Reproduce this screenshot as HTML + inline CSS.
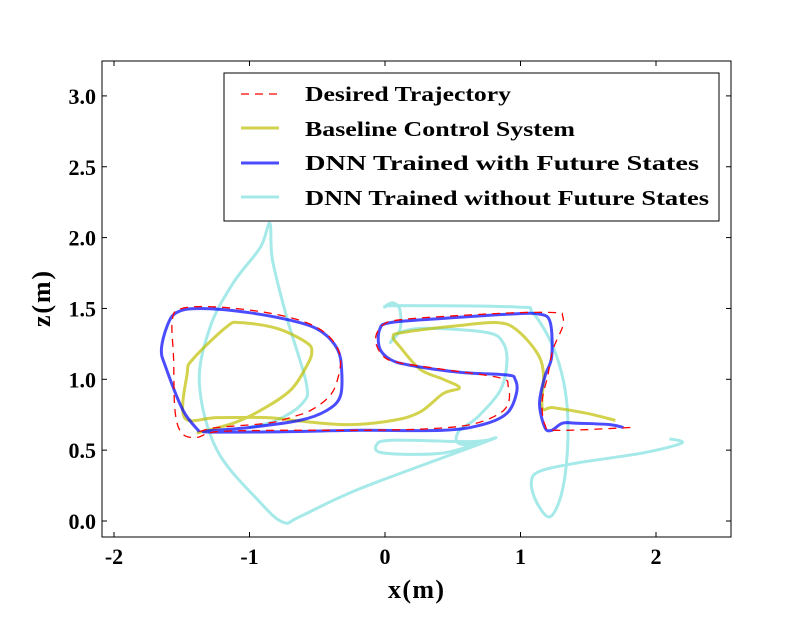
<!DOCTYPE html>
<html><head><meta charset="utf-8"><style>
body{margin:0;background:#fff;}
svg text{font-family:"Liberation Serif",serif;font-weight:bold;}
</style></head><body>
<svg id="chart" width="812" height="612" xmlns="http://www.w3.org/2000/svg">
<rect width="812" height="612" fill="#fff"/>
<g id="series"></g>
<rect x="102" y="61" width="629" height="476" fill="none" stroke="#000" stroke-width="1"/>
<g id="ticks"></g>
<text x="416" y="598" font-size="26" text-anchor="middle" textLength="56">x(m)</text>
<text transform="translate(50,299) rotate(-90)" font-size="26" text-anchor="middle" textLength="56">z(m)</text>
<g>
<rect x="224" y="73" width="495" height="148" fill="#fff" stroke="#000" stroke-width="1"/>
<line x1="241" y1="94" x2="279" y2="94" stroke="#ff0000" stroke-width="1.3" stroke-dasharray="8,6"/>
<text x="305" y="101" font-size="21" textLength="206" lengthAdjust="spacingAndGlyphs">Desired Trajectory</text>
<line x1="241" y1="128" x2="279" y2="128" stroke="#bfbf00" stroke-opacity="0.7" stroke-width="3"/>
<text x="305" y="136" font-size="21" textLength="270" lengthAdjust="spacingAndGlyphs">Baseline Control System</text>
<line x1="241" y1="163" x2="279" y2="163" stroke="#0000ff" stroke-opacity="0.7" stroke-width="3"/>
<text x="305" y="170" font-size="21" textLength="394" lengthAdjust="spacingAndGlyphs">DNN Trained with Future States</text>
<line x1="241" y1="197" x2="279" y2="197" stroke="#00bfbf" stroke-opacity="0.35" stroke-width="3"/>
<text x="305" y="205" font-size="21" textLength="404" lengthAdjust="spacingAndGlyphs">DNN Trained without Future States</text>
</g>
</svg>
<script>
const xTicks=[-2,-1,0,1,2];
const yTicks=[0.0,0.5,1.0,1.5,2.0,2.5,3.0];
const desired=[[1.81,0.66],[1.27,0.64],[1.18,0.68],[1.16,0.85],[1.20,1.02],[1.24,1.21],[1.31,1.37],[1.31,1.45],[1.27,1.47],[0.97,1.47],[0.55,1.45],[0.11,1.42],[-0.02,1.38],[-0.07,1.28],[-0.02,1.17],[0.09,1.12],[0.43,1.07],[0.85,1.01],[0.91,0.95],[0.91,0.83],[0.83,0.75],[0.63,0.68],[0.31,0.65],[-0.18,0.64],[-0.75,0.64],[-1.24,0.63],[-1.39,0.59],[-1.50,0.62],[-1.55,0.78],[-1.56,1.14],[-1.57,1.42],[-1.50,1.50],[-1.24,1.51],[-0.87,1.47],[-0.58,1.40],[-0.41,1.30],[-0.33,1.16],[-0.35,1.00],[-0.41,0.88],[-0.55,0.78],[-0.70,0.73],[-0.87,0.69],[-1.24,0.66],[-1.37,0.63]];
const baseline=[[-1.39,0.62],[-1.12,0.69],[-0.92,0.78],[-0.70,0.92],[-0.58,1.09],[-0.54,1.19],[-0.58,1.26],[-0.80,1.36],[-1.07,1.40],[-1.17,1.37],[-1.42,1.14],[-1.46,1.04],[-1.48,0.73],[-1.24,0.73],[-0.87,0.73],[-0.58,0.70],[-0.26,0.68],[0.06,0.71],[0.26,0.77],[0.43,0.90],[0.55,0.94],[0.43,1.00],[0.26,1.07],[0.11,1.23],[0.06,1.30],[0.13,1.33],[0.55,1.38],[0.83,1.40],[0.97,1.35],[1.12,1.19],[1.17,1.04],[1.16,0.80],[1.24,0.80],[1.49,0.76],[1.70,0.71]];
const dnnFuture=[[-1.37,0.63],[-1.49,0.78],[-1.62,1.09],[-1.65,1.21],[-1.61,1.37],[-1.54,1.47],[-1.37,1.50],[-1.00,1.47],[-0.63,1.40],[-0.46,1.33],[-0.35,1.21],[-0.32,1.07],[-0.33,0.88],[-0.43,0.78],[-0.63,0.71],[-1.00,0.66],[-1.34,0.63],[-0.75,0.63],[-0.18,0.64],[0.43,0.64],[0.72,0.68],[0.90,0.76],[0.97,0.90],[0.96,1.00],[0.90,1.03],[0.55,1.05],[0.18,1.10],[0.04,1.14],[-0.04,1.22],[-0.04,1.35],[0.04,1.40],[0.43,1.43],[0.92,1.46],[1.14,1.46],[1.22,1.40],[1.23,1.16],[1.18,1.02],[1.14,0.83],[1.18,0.66],[1.23,0.64],[1.31,0.69],[1.42,0.69],[1.66,0.68],[1.76,0.66]];
const dnnNoFuture=[[2.10,0.58],[2.19,0.55],[1.90,0.48],[1.42,0.41],[1.14,0.35],[1.08,0.27],[1.12,0.13],[1.22,0.03],[1.31,0.22],[1.35,0.57],[1.33,0.92],[1.24,1.23],[1.09,1.47],[0.97,1.51],[0.11,1.52],[0.00,1.51],[0.06,1.54],[0.11,1.49],[0.11,1.35],[0.04,1.26],[0.11,1.33],[0.31,1.36],[0.75,1.33],[0.87,1.26],[0.90,1.12],[0.85,0.92],[0.68,0.73],[0.55,0.64],[0.53,0.56],[0.61,0.54],[0.80,0.58],[0.63,0.56],[0.06,0.57],[-0.06,0.54],[-0.01,0.48],[0.43,0.48],[0.80,0.58],[-0.18,0.23],[-0.63,0.03],[-0.75,-0.01],[-0.92,0.13],[-1.24,0.50],[-1.37,0.97],[-1.29,1.37],[-1.12,1.68],[-0.92,1.93],[-0.85,2.10],[-0.83,1.84],[-0.72,1.42],[-0.58,0.97],[-0.61,0.83],[-0.80,0.71],[-1.00,0.66]];
const X=v=>385+v*135.5, Y=v=>521-v*141.7;
const NS='http://www.w3.org/2000/svg';
function smoothPath(pts){
  const p=pts.map(q=>[X(q[0]),Y(q[1])]);
  let d='M'+p[0][0].toFixed(1)+','+p[0][1].toFixed(1);
  for(let i=0;i<p.length-1;i++){
    const p0=p[Math.max(0,i-1)],p1=p[i],p2=p[i+1],p3=p[Math.min(p.length-1,i+2)];
    const c1=[p1[0]+(p2[0]-p0[0])/6,p1[1]+(p2[1]-p0[1])/6];
    const c2=[p2[0]-(p3[0]-p1[0])/6,p2[1]-(p3[1]-p1[1])/6];
    d+=' C'+c1.map(v=>v.toFixed(1))+' '+c2.map(v=>v.toFixed(1))+' '+p2.map(v=>v.toFixed(1));
  }
  return d;
}
const g=document.getElementById('series');
function addSeries(pts,color,op,w,dash,name){
  const el=document.createElementNS(NS,'path');
  el.setAttribute('d',smoothPath(pts));
  el.setAttribute('fill','none');el.setAttribute('stroke',color);
  el.setAttribute('stroke-opacity',op);el.setAttribute('stroke-width',w);
  el.setAttribute('stroke-linejoin','round');
  if(dash)el.setAttribute('stroke-dasharray',dash);
  
  
  g.appendChild(el);
}
addSeries(dnnNoFuture,'#00bfbf',0.35,3,null,'series-dnn-without-future');
addSeries(baseline,'#bfbf00',0.7,3,null,'series-baseline');
addSeries(dnnFuture,'#0000ff',0.7,3,null,'series-dnn-with-future');
addSeries(desired,'#ff0000',1,1.3,'8,6','series-desired');
const t=document.getElementById('ticks');
xTicks.forEach(v=>{
  const x=X(v);
  [[537,-5],[61,5]].forEach(([y0,dy])=>{
    const l=document.createElementNS(NS,'line');
    l.setAttribute('x1',x);l.setAttribute('x2',x);l.setAttribute('y1',y0);l.setAttribute('y2',y0+dy);
    l.setAttribute('stroke','#000');
    
    
    t.appendChild(l);
  });
  const tx=document.createElementNS(NS,'text');
  tx.setAttribute('x',x);tx.setAttribute('y',564);tx.setAttribute('font-size','22');tx.setAttribute('text-anchor','middle');
  tx.textContent=String(v);
  
  
  t.appendChild(tx);
});
yTicks.forEach(v=>{
  const y=Y(v);
  [[102,5],[731,-5]].forEach(([x0,dx])=>{
    const l=document.createElementNS(NS,'line');
    l.setAttribute('x1',x0);l.setAttribute('x2',x0+dx);l.setAttribute('y1',y);l.setAttribute('y2',y);
    l.setAttribute('stroke','#000');
    
    
    t.appendChild(l);
  });
  const tx=document.createElementNS(NS,'text');
  tx.setAttribute('x',96);tx.setAttribute('y',y+8);tx.setAttribute('font-size','22');tx.setAttribute('text-anchor','end');
  tx.textContent=v.toFixed(1);
  
  
  t.appendChild(tx);
});
</script>
</body></html>
